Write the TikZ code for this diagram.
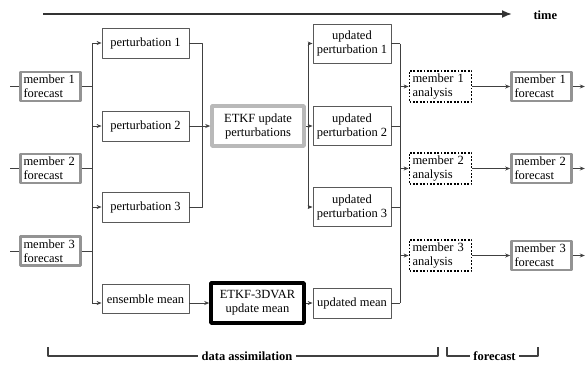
\documentclass[tikz,border=0pt]{standalone}
\usepackage{fontspec}
\setmainfont{Liberation Serif}
\usetikzlibrary{arrows.meta,calc}

\begin{document}
\begin{tikzpicture}[x=1pt, y=-1pt, >={Stealth[length=5pt,width=4pt]}, line join=round,
    every node/.style={font=\fontsize{12.5}{14}\selectfont},
    conn/.style={draw=black!75, line width=0.9pt},
    plainbox/.style={draw=black!65, line width=0.8pt, minimum width=87pt, minimum height=30pt, inner sep=1pt, align=center},
    updbox/.style={plainbox, minimum width=78pt, minimum height=39pt},
    memberbox/.style={draw=gray!85, line width=2.6pt, text width=54pt, inner sep=3pt, minimum height=29pt, align=left},
    analysisbox/.style={draw=black, line width=1.8pt, dash pattern=on 1.8pt off 1.6pt, text width=56pt, inner sep=3pt, minimum height=29pt, align=left},
    etkfbox/.style={draw=gray!55, line width=3.5pt, minimum width=92pt, minimum height=40pt, align=center},
    meanbox/.style={draw=black, line width=3.5pt, minimum width=93pt, minimum height=40pt, align=center},
    tag/.style={font=\fontsize{12.5}{14}\selectfont\bfseries}]
  \useasboundingbox (0,0) rectangle (586,367);

  \node[memberbox] (mf1L) at (50.5,86.5) {member 1\\forecast};
  \node[memberbox] (mf2L) at (50.5,168.5) {member 2\\forecast};
  \node[memberbox] (mf3L) at (50.5,251) {member 3\\forecast};

  \node[plainbox] (p1) at (145.5,43) {perturbation 1};
  \node[plainbox] (p2) at (145.5,126) {perturbation 2};
  \node[plainbox] (p3) at (145.5,207) {perturbation 3};
  \node[plainbox, minimum height=29pt] (em) at (145.5,299) {ensemble mean};

  \node[etkfbox] (etkf) at (258,126) {ETKF update\\perturbations};
  \node[meanbox] (etkf3) at (257.5,303) {ETKF-3DVAR\\update mean};

  \node[updbox] (up1) at (352,43.5) {updated\\perturbation 1};
  \node[updbox] (up2) at (352,126) {updated\\perturbation 2};
  \node[updbox] (up3) at (352,207) {updated\\perturbation 3};
  \node[updbox, minimum height=30pt] (um) at (352,303) {updated mean};

  \node[analysisbox] (ma1) at (440.5,86.5) {member 1\\analysis};
  \node[analysisbox] (ma2) at (440.5,168.5) {member 2\\analysis};
  \node[analysisbox] (ma3) at (440.5,255.5) {member 3\\analysis};

  \node[memberbox] (mf1R) at (541.5,86.5) {member 1\\forecast};
  \node[memberbox] (mf2R) at (541.5,168.5) {member 2\\forecast};
  \node[memberbox] (mf3R) at (541.5,255.5) {member 3\\forecast};

  \coordinate (busL) at (92,0);
  \coordinate (busP) at (202,0);
  \coordinate (busU) at (308,0);
  \coordinate (busA) at (400,0);

  \foreach \k in {1,2,3} {
    \coordinate (in\k) at ($(mf\k L.west)+(-9,0)$);
    \coordinate (out\k) at ($(mf\k R.east)+(12,0)$);
    \draw[conn] (in\k) -- (mf\k L.west);
    \draw[conn] (mf\k L.east) -- (mf\k L.east -| busL);
    \draw[conn, ->] (ma\k.east) -- (mf\k R.west);
    \draw[conn, ->] (mf\k R.east) -- (out\k);
    \draw[conn, ->] (ma\k.west -| busA) -- (ma\k.west);
  }

  \draw[conn] (p1.west -| busL) -- (etkf3.west -| busL);
  \foreach \n in {p1,p2,p3}
    \draw[conn, ->] (\n.west -| busL) -- (\n.west);
  \draw[conn, ->] (etkf3.west -| busL) -- (etkf3.west -| em.west);

  \draw[conn] (p1.east) -- (p1.east -| busP) -- (p3.east -| busP) -- (p3.east);
  \draw[conn, ->] (p2.east) -- (etkf.west);
  \draw[conn, ->] (etkf3.west -| em.east) -- (etkf3.west);

  \draw[conn] (up1.west -| busU) -- (up3.west -| busU);
  \draw[conn, ->] (up1.west -| busU) -- (up1.west);
  \draw[conn, ->] (etkf.east) -- (up2.west);
  \draw[conn, ->] (up3.west -| busU) -- (up3.west);
  \draw[conn, ->] (etkf3.east) -- (um.west);

  \foreach \n in {up1,up2,up3,um}
    \draw[conn] (\n.east) -- (\n.east -| busA);
  \draw[conn] (up1.east -| busA) -- (um.east -| busA);

  \node[tag, anchor=west] (time) at (530,15) {time};
  \coordinate (t0) at (43,14);
  \coordinate (t1) at (512,14);
  \draw[draw=black!80, line width=1.8pt, -{Latex[length=10pt,width=8pt]}] (t0) -- (t1);

  \node[tag] (da) at (247,356) {data assimilation};
  \coordinate (da0) at (48,347);
  \coordinate (da1) at (438,347);
  \draw[conn, line width=1.3pt] (da0) |- (da.west);
  \draw[conn, line width=1.3pt] (da.east) -| (da1);

  \node[tag] (fc) at (494.5,356) {forecast};
  \coordinate (fc0) at (447,347);
  \coordinate (fc1) at (538,347);
  \draw[conn, line width=1.3pt] (fc0) |- (fc.west);
  \draw[conn, line width=1.3pt] (fc.east) -| (fc1);
\end{tikzpicture}
\end{document}
